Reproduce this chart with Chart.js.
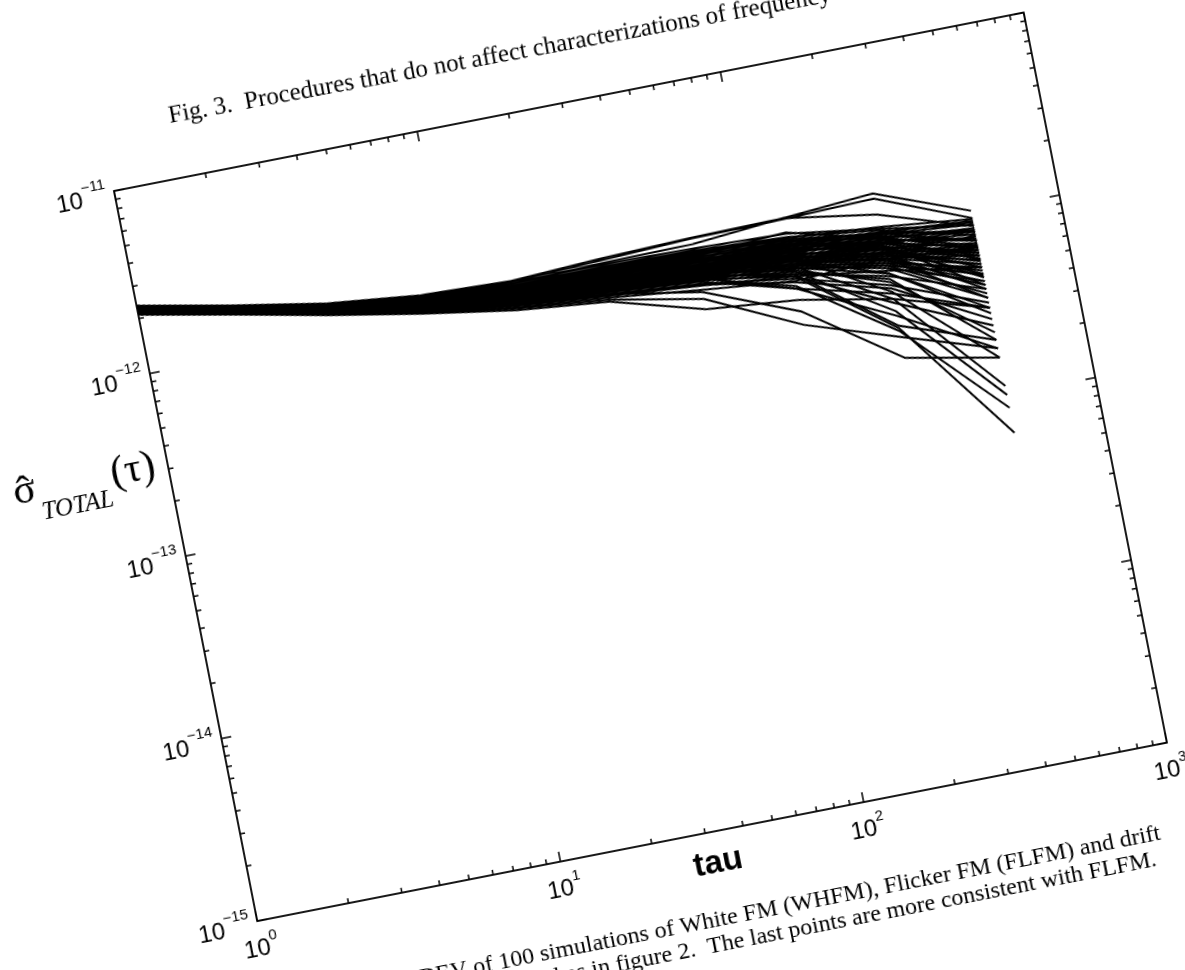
<!DOCTYPE html>
<html>
<head>
<meta charset="utf-8">
<title>TOTALDEV of 100 simulations</title>
<script src="https://cdn.jsdelivr.net/npm/chart.js@4.4.1/dist/chart.umd.min.js"></script>
<style>
  html, body { margin: 0; padding: 0; background: #fff; }
  #page { position: absolute; left: 0; top: 0; width: 1185px; height: 970px; overflow: hidden; background: #fff; }
  #sheet { position: absolute; left: 0; top: 0; width: 1240px; height: 1060px; transform-origin: 0 0; }
</style>
</head>
<body>
<div id="page"><div id="sheet"><canvas id="chart"></canvas></div></div>
<script>
// averaging times of the TOTALDEV estimates (octave spaced)
const TAU = [1, 2, 4, 8, 16, 32, 64, 128, 256, 512];

// sigma values, in units of 1e-12
const UNIT = 1e-12;

// the main bundle of runs
const CORE_RUNS = [
  [2.30, 1.85, 1.50, 1.30, 1.20, 1.22, 1.18, 1.10, 0.95, 0.80],
  [2.22, 1.78, 1.44, 1.22, 1.10, 1.05, 0.98, 0.90, 0.72, 0.55],
  [2.15, 1.72, 1.38, 1.15, 1.00, 0.92, 0.85, 0.92, 0.80, 0.62],
  [2.28, 1.82, 1.47, 1.27, 1.18, 1.15, 1.12, 1.05, 0.98, 0.90],
  [2.19, 1.75, 1.41, 1.18, 1.05, 0.98, 0.90, 0.80, 0.62, 0.42],
  [2.33, 1.86, 1.52, 1.32, 1.22, 1.25, 1.22, 1.15, 1.00, 0.75],
  [2.12, 1.70, 1.35, 1.10, 0.95, 0.86, 0.78, 0.70, 0.60, 0.50],
  [2.25, 1.80, 1.46, 1.25, 1.14, 1.10, 1.05, 1.00, 0.85, 0.65],
  [2.20, 1.76, 1.42, 1.20, 1.08, 1.02, 1.00, 0.95, 0.88, 0.70],
  [2.17, 1.73, 1.39, 1.16, 1.03, 0.96, 0.92, 0.85, 0.68, 0.48],
  [2.31, 1.84, 1.49, 1.29, 1.19, 1.18, 1.15, 1.08, 0.92, 0.62],
  [2.24, 1.79, 1.45, 1.24, 1.12, 1.08, 1.02, 0.92, 0.78, 0.60],
  [2.14, 1.71, 1.37, 1.13, 0.98, 0.90, 0.82, 0.60, 0.45, 0.30],
  [2.27, 1.81, 1.47, 1.26, 1.16, 1.12, 1.08, 1.02, 0.90, 0.82],
  [2.21, 1.77, 1.43, 1.21, 1.09, 1.04, 0.96, 0.88, 0.75, 0.58],
  [2.34, 1.87, 1.53, 1.34, 1.25, 1.28, 1.25, 1.20, 1.02, 0.85],
  [2.11, 1.69, 1.34, 1.09, 0.93, 0.84, 0.74, 0.66, 0.70, 0.58],
  [2.26, 1.80, 1.45, 1.23, 1.12, 1.06, 0.97, 0.84, 0.66, 0.40],
  [2.18, 1.74, 1.40, 1.17, 1.05, 0.99, 0.94, 1.05, 0.82, 0.40],
  [2.29, 1.83, 1.48, 1.28, 1.17, 1.16, 1.10, 0.98, 0.80, 0.50],
  [2.16, 1.72, 1.38, 1.14, 1.01, 0.94, 0.88, 0.82, 0.70, 0.52],
  [2.23, 1.78, 1.44, 1.23, 1.11, 1.07, 1.04, 0.98, 0.92, 0.78],
  [2.13, 1.70, 1.36, 1.12, 0.97, 0.88, 0.80, 0.68, 0.50, 0.32],
  [2.32, 1.85, 1.50, 1.31, 1.21, 1.20, 1.16, 1.06, 0.85, 0.58],
  [2.20, 1.75, 1.41, 1.19, 1.06, 1.00, 0.93, 0.86, 0.72, 0.62],
  [2.27, 1.82, 1.46, 1.25, 1.15, 1.12, 1.10, 0.95, 0.70, 0.34],
  [2.15, 1.72, 1.37, 1.14, 1.00, 0.91, 0.83, 0.72, 0.56, 0.38],
  [2.24, 1.79, 1.44, 1.22, 1.10, 1.03, 0.95, 0.85, 0.70, 0.45],
  [2.30, 1.84, 1.49, 1.30, 1.20, 1.20, 1.18, 1.12, 0.96, 0.70],
  [2.18, 1.74, 1.40, 1.17, 1.04, 0.97, 0.91, 0.78, 0.58, 0.30],
  [2.22, 1.77, 1.43, 1.21, 1.08, 1.02, 0.98, 0.92, 0.80, 0.68],
  [2.12, 1.69, 1.35, 1.11, 0.96, 0.87, 0.79, 0.65, 0.48, 0.26],
  [2.28, 1.82, 1.47, 1.27, 1.16, 1.13, 1.06, 0.94, 0.74, 0.52],
  [2.19, 1.75, 1.41, 1.19, 1.07, 1.01, 0.95, 0.88, 0.78, 0.74],
  [2.25, 1.80, 1.45, 1.24, 1.13, 1.09, 1.06, 1.03, 0.95, 0.86],
  [2.16, 1.73, 1.39, 1.15, 1.02, 0.95, 0.86, 0.74, 0.54, 0.20],
  [2.33, 1.86, 1.51, 1.33, 1.23, 1.24, 1.20, 1.10, 0.90, 0.66],
  [2.21, 1.76, 1.42, 1.20, 1.07, 1.00, 0.92, 0.82, 0.64, 0.36],
  [2.14, 1.71, 1.36, 1.12, 0.99, 0.91, 0.84, 0.96, 0.98, 0.88],
  [2.26, 1.81, 1.46, 1.26, 1.15, 1.11, 1.04, 0.96, 0.82, 0.44],
  [2.17, 1.73, 1.38, 1.16, 1.03, 0.96, 0.89, 0.80, 0.66, 0.50],
  [2.29, 1.83, 1.48, 1.28, 1.18, 1.17, 1.14, 1.22, 0.90, 0.55],
  [2.20, 1.76, 1.42, 1.19, 1.06, 0.99, 0.90, 0.76, 0.52, 0.22],
  [2.23, 1.78, 1.44, 1.22, 1.10, 1.05, 1.00, 0.94, 0.86, 0.76],
  [2.13, 1.70, 1.36, 1.13, 0.99, 0.92, 0.86, 0.60, 0.34, 0.18],
  [2.31, 1.84, 1.50, 1.29, 1.19, 1.19, 1.13, 1.00, 0.78, 0.46],
  [2.17, 1.74, 1.39, 1.15, 1.01, 0.93, 0.84, 0.70, 0.40, 0.24],
  [2.24, 1.79, 1.45, 1.23, 1.11, 1.05, 0.99, 0.88, 0.46, 0.16],
  [2.19, 1.75, 1.40, 1.18, 1.05, 0.97, 0.88, 0.72, 0.30, 0.20],
  [2.21, 1.77, 1.42, 1.20, 1.07, 1.01, 0.96, 0.90, 0.84, 0.80],
  [2.28, 1.83, 1.48, 1.27, 1.17, 1.14, 1.09, 1.00, 0.88, 0.72],
  [2.15, 1.72, 1.38, 1.14, 1.01, 0.93, 0.87, 0.80, 0.74, 0.64],
  [2.26, 1.81, 1.46, 1.25, 1.14, 1.10, 1.07, 1.04, 0.93, 0.70],
  [2.19, 1.75, 1.41, 1.18, 1.05, 0.98, 0.92, 0.87, 0.76, 0.54],
  [2.32, 1.85, 1.51, 1.31, 1.22, 1.22, 1.19, 1.14, 1.04, 0.92],
  [2.13, 1.70, 1.36, 1.12, 0.98, 0.90, 0.83, 0.78, 0.62, 0.34],
  [2.24, 1.79, 1.44, 1.23, 1.11, 1.06, 1.02, 0.96, 0.84, 0.60],
  [2.18, 1.74, 1.40, 1.17, 1.04, 0.98, 0.94, 0.86, 0.58, 0.28],
  [2.30, 1.84, 1.49, 1.29, 1.19, 1.18, 1.12, 1.04, 0.86, 0.64],
  [2.16, 1.73, 1.39, 1.15, 1.02, 0.95, 0.90, 0.84, 0.76, 0.66],
  [2.23, 1.78, 1.43, 1.22, 1.09, 1.04, 0.99, 0.90, 0.68, 0.42],
  [2.27, 1.82, 1.47, 1.26, 1.15, 1.13, 1.11, 1.08, 0.97, 0.78],
  [2.20, 1.76, 1.42, 1.19, 1.06, 1.00, 0.96, 0.91, 0.82, 0.56],
  [2.14, 1.71, 1.37, 1.13, 0.99, 0.91, 0.85, 0.77, 0.64, 0.46],
  [2.25, 1.80, 1.45, 1.24, 1.13, 1.08, 1.01, 0.90, 0.74, 0.38],
];

// runs that leave the bundle (the peak at tau=256 and the deep drops at the end)
const STRAY_RUNS = [
  [2.35, 1.88, 1.54, 1.36, 1.30, 1.38, 1.43, 1.46, 1.59, 1.02],
  [2.34, 1.87, 1.53, 1.35, 1.28, 1.35, 1.42, 1.44, 1.49, 0.93],
  [2.32, 1.86, 1.52, 1.33, 1.26, 1.30, 1.32, 1.46, 1.22, 0.84],
  [2.10, 1.68, 1.33, 1.08, 0.90, 0.80, 0.58, 0.52, 0.42, 0.30],
  [2.11, 1.68, 1.34, 1.09, 0.92, 0.82, 0.66, 0.38, 0.26, 0.18],
  [2.14, 1.71, 1.37, 1.12, 0.97, 0.88, 0.72, 0.45, 0.20, 0.16],
  [2.22, 1.77, 1.43, 1.20, 1.07, 1.00, 0.90, 0.70, 0.29, 0.062],
  [2.18, 1.74, 1.40, 1.18, 1.04, 0.96, 0.85, 0.62, 0.28, 0.085],
  [2.25, 1.79, 1.45, 1.23, 1.11, 1.04, 0.94, 0.75, 0.36, 0.10],
  [2.27, 1.81, 1.46, 1.25, 1.13, 1.06, 0.97, 0.80, 0.42, 0.112],
];

const X_TICK_VALUES = [1, 10, 100, 1000];
const X_TICK_EXPONENTS = ["0", "1", "2", "3"];
const Y_TICK_VALUES = [1e-15, 1e-14, 1e-13, 1e-12, 1e-11];
const Y_TICK_EXPONENTS = ["\u221215", "\u221214", "\u221213", "\u221212", "\u221211"];

const TITLE_TEXT = "Fig. 3.  Procedures that do not affect characterizations of frequency";
const CAPTION_LINES = [
  "Fig. 4.  TOTALDEV of 100 simulations of White FM (WHFM), Flicker FM (FLFM) and drift",
  "removed as in figure 2.  The last points are more consistent with FLFM.",
];

// where the (tilted) plot box sits on the scanned page
const PAGE = { left: 114, top: 191, angle: -11.1 };
const AREA = { left: 200, top: 150, width: 927, height: 744 };
const SHEET = { width: 1240, height: 1060 };

const INK = "#000";
const SERIF = '"Liberation Serif", "Times New Roman", serif';
const SANS = '"Liberation Sans", Arial, Helvetica, sans-serif';

function isDecade(v) {
  const e = Math.log10(v);
  return Math.abs(e - Math.round(e)) < 1e-6;
}

// keep only the 1..9 x 10^n ticks of the log scale
function isWholeMantissa(v) {
  const m = v / Math.pow(10, Math.floor(Math.log10(v) + 1e-9));
  return Math.abs(m - Math.round(m)) < 1e-6;
}

function drawPower(ctx, exponent, x, y, mode) {
  ctx.font = `24px ${SANS}`;
  const wBase = ctx.measureText("10").width;
  ctx.font = `15px ${SANS}`;
  const wExp = ctx.measureText(exponent).width;
  let x0;
  let baseY;
  let expY;
  if (mode === "left") {
    x0 = x - 8 - wExp - wBase;
    baseY = y + 4;
    expY = y - 8;
  } else {
    x0 = x - wBase / 2 - 5;
    baseY = y + 28;
    expY = y + 17;
  }
  ctx.textAlign = "left";
  ctx.textBaseline = "middle";
  ctx.font = `24px ${SANS}`;
  ctx.fillText("10", x0, baseY);
  ctx.font = `15px ${SANS}`;
  ctx.fillText(exponent, x0 + wBase, expY);
}

const framePlugin = {
  id: "frame",
  afterDraw(chart) {
    const { ctx, chartArea: a } = chart;
    const xs = chart.scales.x;
    const ys = chart.scales.y;
    ctx.save();
    ctx.strokeStyle = INK;
    ctx.fillStyle = INK;
    ctx.lineWidth = 1.8;
    ctx.strokeRect(a.left, a.top, a.right - a.left, a.bottom - a.top);

    // inward ticks on all four sides
    ctx.lineWidth = 1.5;
    ctx.beginPath();
    for (const t of xs.ticks) {
      if (!isWholeMantissa(t.value)) continue;
      const px = xs.getPixelForValue(t.value);
      const len = isDecade(t.value) ? 10 : 5;
      ctx.moveTo(px, a.bottom);
      ctx.lineTo(px, a.bottom - len);
      ctx.moveTo(px, a.top);
      ctx.lineTo(px, a.top + len);
    }
    for (const t of ys.ticks) {
      if (!isWholeMantissa(t.value)) continue;
      const py = ys.getPixelForValue(t.value);
      const len = isDecade(t.value) ? 10 : 5;
      ctx.moveTo(a.left, py);
      ctx.lineTo(a.left + len, py);
      ctx.moveTo(a.right, py);
      ctx.lineTo(a.right - len, py);
    }
    ctx.stroke();

    // tick labels
    X_TICK_VALUES.forEach((v, i) => {
      drawPower(ctx, X_TICK_EXPONENTS[i], xs.getPixelForValue(v), a.bottom, "bottom");
    });
    Y_TICK_VALUES.forEach((v, i) => {
      drawPower(ctx, Y_TICK_EXPONENTS[i], a.left, ys.getPixelForValue(v), "left");
    });

    // x label
    ctx.font = `bold 33px ${SANS}`;
    ctx.textAlign = "center";
    ctx.textBaseline = "middle";
    ctx.fillText("tau", (a.left + a.right) / 2, a.bottom + 32);

    // y label: sigma-hat with TOTAL subscript, (tau)
    ctx.textAlign = "left";
    ctx.textBaseline = "alphabetic";
    let lx = a.left - 157;
    const base = a.top + 289;
    ctx.font = `42px ${SERIF}`;
    const wSigma = ctx.measureText("\u03c3").width;
    ctx.fillText("\u03c3", lx, base);
    ctx.textAlign = "center";
    ctx.fillText("\u02c6", lx + wSigma / 2, base + 2);
    ctx.textAlign = "left";
    lx += wSigma + 2;
    ctx.font = `italic 25px ${SERIF}`;
    ctx.fillText("TOTAL", lx, base + 20);
    lx += ctx.measureText("TOTAL").width + 2;
    ctx.font = `42px ${SERIF}`;
    ctx.fillText("(\u03c4)", lx, base);

    // page text above and below the figure
    ctx.save();
    ctx.translate(a.left + 68, a.top - 56);
    ctx.rotate((0.7 * Math.PI) / 180);
    ctx.font = `25px ${SERIF}`;
    ctx.textAlign = "left";
    ctx.textBaseline = "alphabetic";
    ctx.fillText(TITLE_TEXT, 0, 0);
    ctx.restore();

    ctx.font = `24px ${SERIF}`;
    ctx.textAlign = "right";
    ctx.textBaseline = "middle";
    ctx.fillText(CAPTION_LINES[0], a.left + 903, a.bottom + 88);
    ctx.fillText(CAPTION_LINES[1], a.left + 894, a.bottom + 113);
    ctx.restore();
  },
};

function toDataset(run) {
  return {
    data: run.map((s, i) => ({ x: TAU[i], y: s * UNIT })),
    borderColor: INK,
    borderWidth: 2,
    pointRadius: 0,
    fill: false,
    tension: 0,
  };
}

const sheet = document.getElementById("sheet");
const canvas = document.getElementById("chart");

const chart = new Chart(canvas.getContext("2d"), {
  type: "line",
  data: { datasets: [...CORE_RUNS, ...STRAY_RUNS].map(toDataset) },
  options: {
    responsive: true,
    maintainAspectRatio: false,
    animation: false,
    events: [],
    layout: {
      padding: {
        left: AREA.left,
        top: AREA.top,
        right: SHEET.width - AREA.left - AREA.width,
        bottom: SHEET.height - AREA.top - AREA.height,
      },
    },
    scales: {
      x: {
        type: "logarithmic",
        min: 1,
        max: 1000,
        grid: { display: false },
        border: { display: false },
        ticks: { display: false },
        afterFit(scale) { scale.height = 0; },
      },
      y: {
        type: "logarithmic",
        min: 1e-15,
        max: 1e-11,
        grid: { display: false },
        border: { display: false },
        ticks: { display: false },
        afterFit(scale) { scale.width = 0; },
      },
    },
    plugins: {
      legend: { display: false },
      tooltip: { enabled: false },
      title: { display: false },
    },
  },
  plugins: [framePlugin],
});

// place the plot box where it sits on the tilted page
const area = chart.chartArea;
sheet.style.transform =
  `translate(${PAGE.left}px, ${PAGE.top}px) rotate(${PAGE.angle}deg) ` +
  `translate(${-area.left}px, ${-area.top}px)`;
</script>
</body>
</html>
